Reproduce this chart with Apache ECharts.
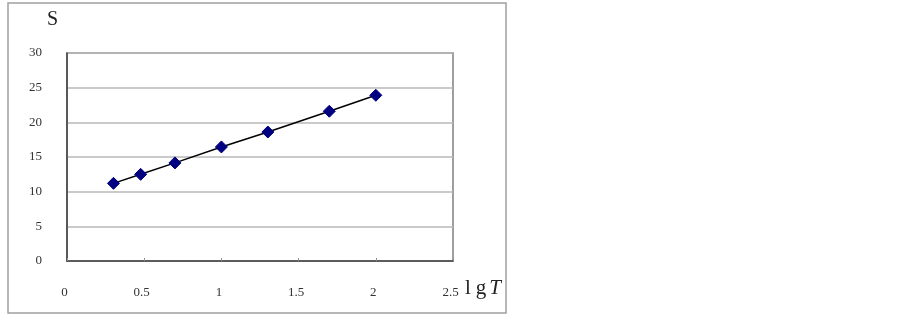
<!DOCTYPE html>
<html><head><meta charset="utf-8">
<script src="https://cdn.jsdelivr.net/npm/echarts@6/dist/echarts.min.js"></script>
<style>html,body{margin:0;padding:0;background:#fff}#c{width:903px;height:316px}</style>
</head><body><div id="c"></div>
<script>
const lgT = [0.301, 0.477, 0.699, 1.0, 1.301, 1.699, 2.0];
const S = [11.2, 12.5, 14.15, 16.45, 18.6, 21.6, 23.9];
const xTicks = [0, 0.5, 1, 1.5, 2, 2.5];
const yTicks = [0, 5, 10, 15, 20, 25, 30];
const font = '"Liberation Serif","DejaVu Serif",serif';
const chart = echarts.init(document.getElementById('c'), null, {renderer:'canvas'});
chart.setOption({
  animation:false,
  backgroundColor:'#fff',
  grid:{left:67, right:450, top:53, bottom:55, show:true, borderColor:'#808080', borderWidth:1.5},
  xAxis:{type:'value', min:0, max:2.5, interval:0.5,
    axisLine:{show:true, onZero:false, lineStyle:{color:'#404040', width:1.5}},
    axisTick:{show:true, inside:true, length:3, lineStyle:{color:'#909090'}},
    splitLine:{show:false},
    axisLabel:{margin:25, color:'#333', fontFamily:font, fontSize:13, padding:[0,5,0,0],
      formatter:v=>xTicks.includes(v)?String(v):''}
  },
  yAxis:{type:'value', min:0, max:30, interval:5,
    axisLine:{show:true, lineStyle:{color:'#404040', width:1.5}},
    axisTick:{show:false},
    splitLine:{show:true, lineStyle:{color:'#b8b8b8', width:1.5}},
    axisLabel:{margin:25, color:'#333', fontFamily:font, fontSize:13,
      formatter:v=>yTicks.includes(v)?String(v):''}
  },
  graphic:[
    {type:'rect', shape:{x:8, y:3, width:498, height:310}, style:{fill:'none', stroke:'#a0a0a0', lineWidth:1.5}, z:-1},
    {type:'text', left:47, top:10, style:{text:'S', font:'20px '+font, fill:'#222'}},
    {type:'text', left:465, top:278, style:{text:'{a|l}{g|g}{b|T}', rich:{
      a:{font:'21px '+font, fill:'#222', padding:[0,5,0,0]},
      g:{font:'21px '+font, fill:'#222', padding:[0,3,0,0]},
      b:{font:'italic 21px '+font, fill:'#222'}}}}
  ],
  series:[{type:'line', data:lgT.map((x,i)=>[x,S[i]]),
    symbol:'diamond', symbolSize:12,
    itemStyle:{color:'#000080', borderColor:'#000080'},
    lineStyle:{color:'#000', width:1.5}
  }]
});
</script></body></html>
